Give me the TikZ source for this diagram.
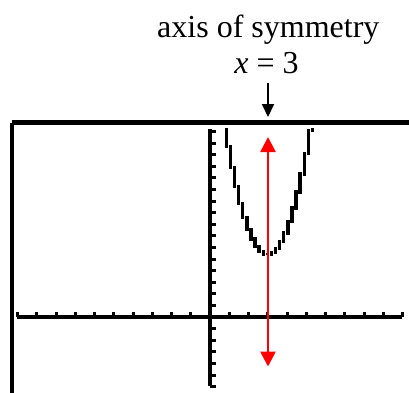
\documentclass[tikz,border=0pt]{standalone}
\usepackage{fontspec}
\setmainfont{Liberation Serif}
\usetikzlibrary{arrows.meta}
\begin{document}
\begin{tikzpicture}[x=1pt,y=-1pt,
  lbl/.style={font=\fontsize{32}{36}\selectfont, inner sep=0pt, anchor=base},
  axisline/.style={line width=3.8pt, black},
  tickmark/.style={line width=3pt, black},
  curve/.style={line width=3.4pt, black, line cap=rect},
  redarrow/.style={line width=2.6pt, red, {Triangle[width=15pt,length=15pt]}-{Triangle[width=15pt,length=15pt]}},
  blackarrow/.style={line width=2pt, black, -{Triangle[width=12pt,length=13pt]}}]
\useasboundingbox (0,0) rectangle (409,392);
\clip (0,0) rectangle (409,392);
\fill[white] (0,0) rectangle (409,392);
% labels
\node[lbl] (title) at (268.3,37.5) {axis of symmetry};
\node[lbl] (eq) at (266.5,73.5) {\textit{x} = 3};
% screen frame
\draw[line width=4.5pt] (11.5,122.5) -- (420,122.5);
\draw[line width=4pt] (11.5,122.5) -- (11.5,400);
% black arrow
\coordinate (atop) at (268,83);
\coordinate (abot) at (268,117);
\draw[blackarrow] (atop) -- (abot);
% axes
\coordinate (xl) at (17,317);
\coordinate (xr) at (402,317);
\coordinate (yt) at (210,129);
\coordinate (yb) at (210,386);
\draw[axisline] (xl) -- (xr);
\draw[axisline] (yt) -- (yb);
\foreach \k in {-10,...,10} {
  \draw[tickmark] (210+19.25*\k,317) -- (210+19.25*\k,311.5);
}
\foreach \k in {-6,...,16} {
  \draw[tickmark] (210,317-11.6*\k) -- (215.5,317-11.6*\k);
}
% parabola (calculator-style pixel columns)
\begin{scope}
\clip (0,128.5) rectangle (409,392);
\foreach \k in {3,...,25} {
  \pgfmathsetmacro{\xc}{210+\k*4.096}
  \pgfmathsetmacro{\yc}{255-0.0692*(\xc-268)*(\xc-268)}
  \pgfmathsetmacro{\yp}{255-0.0692*(\xc-4.096-268)*(\xc-4.096-268)}
  \pgfmathsetmacro{\yn}{255-0.0692*(\xc+4.096-268)*(\xc+4.096-268)}
  \pgfmathsetmacro{\ys}{(\yc+\yp)/2}
  \pgfmathsetmacro{\ye}{(\yc+\yn)/2}
  \draw[curve] (\xc,\ys) -- (\xc,\yc) -- (\xc,\ye);
}
\end{scope}
% red axis of symmetry
\coordinate (rtop) at (268,137);
\coordinate (rbot) at (268,366.5);
\draw[redarrow] (rtop) -- (rbot);
\end{tikzpicture}
\end{document}
